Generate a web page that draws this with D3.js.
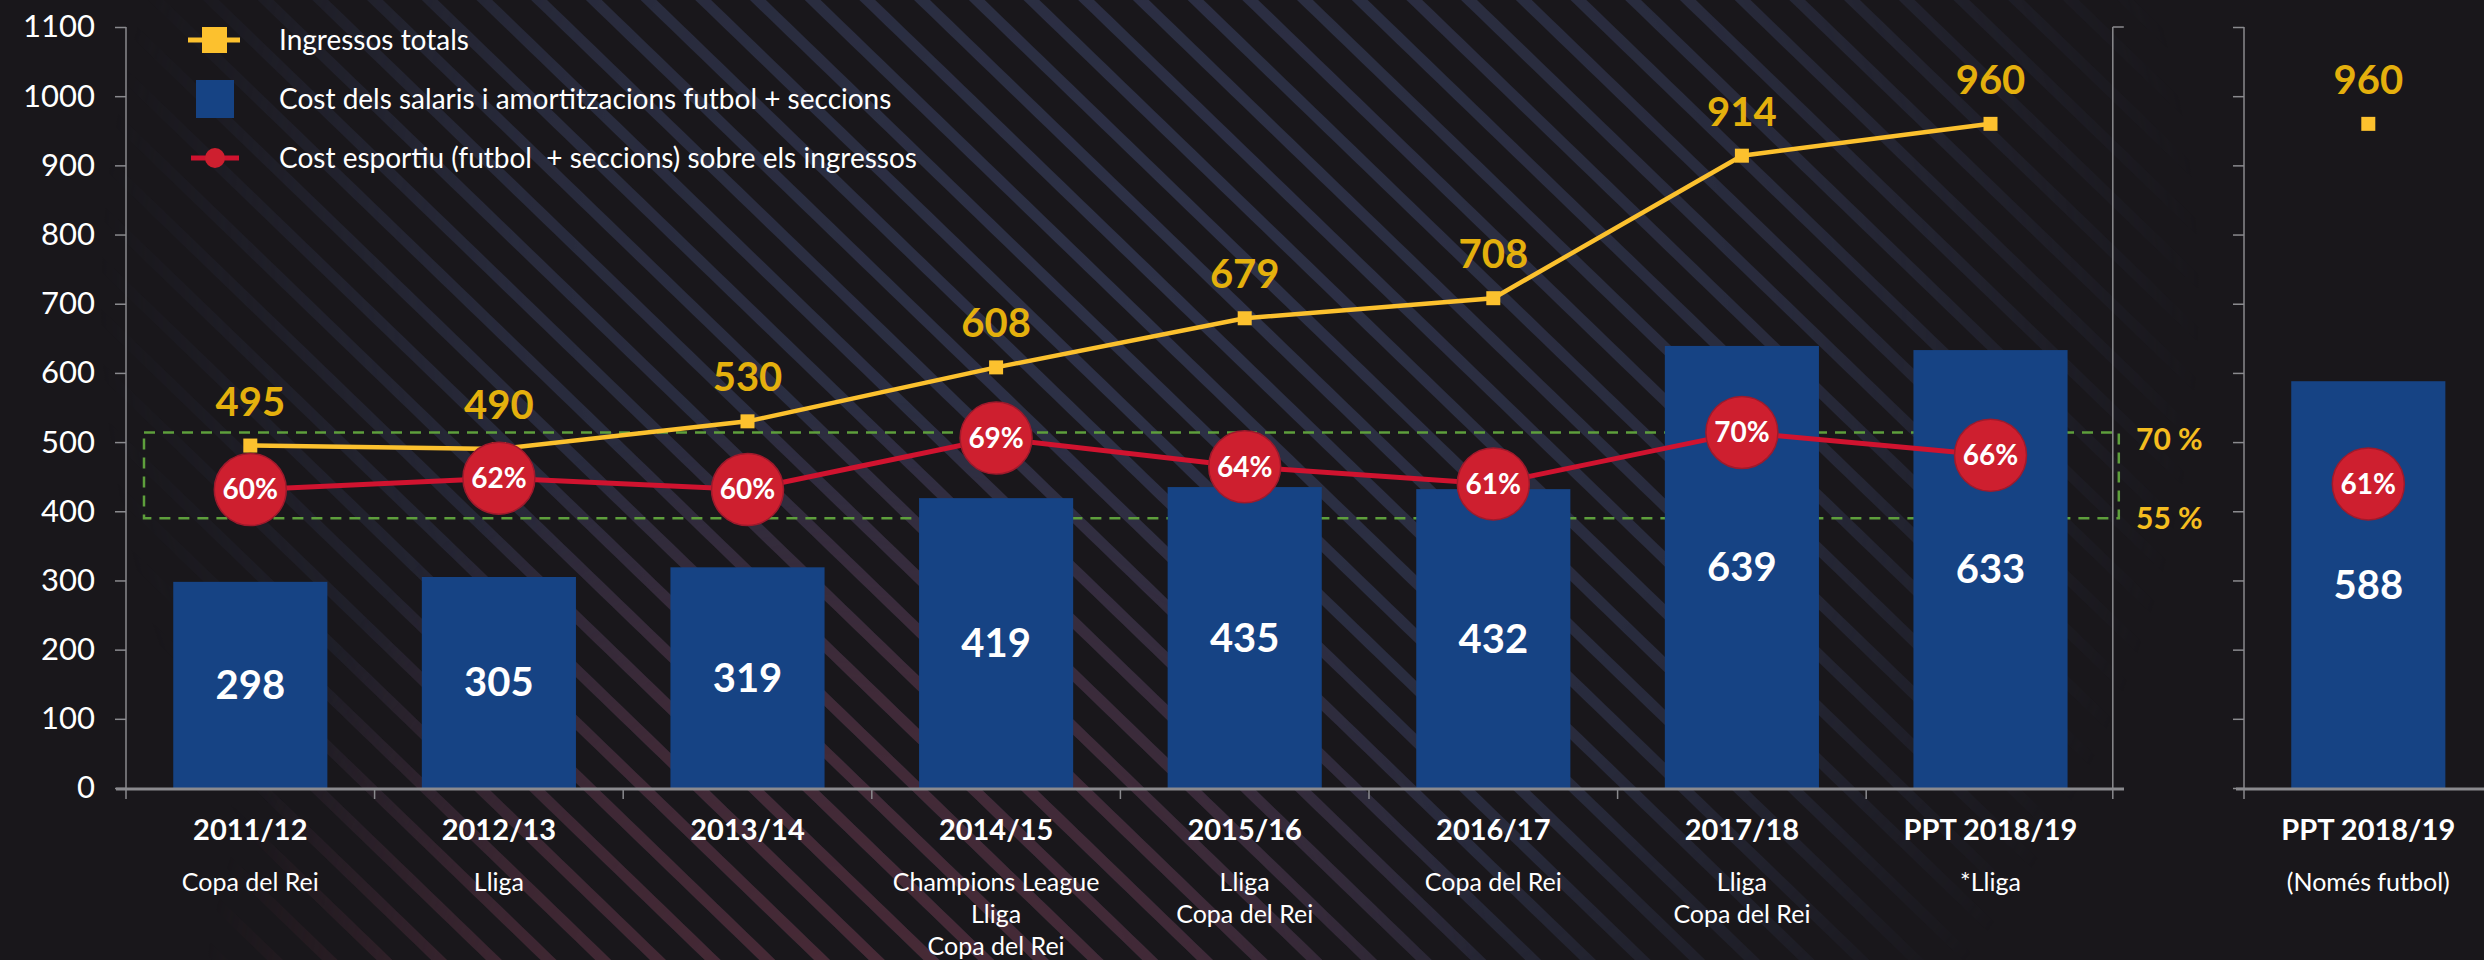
<!DOCTYPE html>
<html>
<head>
<meta charset="utf-8">
<script src="https://cdn.jsdelivr.net/npm/d3@7"></script>
<style>
  html, body { margin: 0; padding: 0; background: #19171b; }
  svg { display: block; font-family: Lato, "Open Sans", sans-serif; }
</style>
</head>
<body>
<svg id="chart" width="2484" height="960"></svg>
<script>
const width = 2484, height = 960;

// Chart data
const seasons = ["2011/12", "2012/13", "2013/14", "2014/15", "2015/16", "2016/17", "2017/18", "PPT 2018/19"];
const titles = [["Copa del Rei"], ["Lliga"], [], ["Champions League", "Lliga", "Copa del Rei"], ["Lliga", "Copa del Rei"], ["Copa del Rei"], ["Lliga", "Copa del Rei"], ["*Lliga"]];
const salaryCost = [298, 305, 319, 419, 435, 432, 639, 633];
const totalIncome = [495, 490, 530, 608, 679, 708, 914, 960];
const costShare = [60, 62, 60, 69, 64, 61, 70, 66];

// Football-only budget (right panel)
const footballSeason = ["PPT 2018/19"];
const footballSub = ["(Només futbol)"];
const footballCost = [588];
const footballIncome = [960];
const footballShare = [61];

const yTicks = [0, 100, 200, 300, 400, 500, 600, 700, 800, 900, 1000, 1100];
const shareBand = [55, 70];

const legendItems = ["Ingressos totals", "Cost dels salaris i amortitzacions futbol + seccions", "Cost esportiu (futbol  + seccions) sobre els ingressos"];

const col = {
    bar: "#164384", yellow: "#fcc12e", yellowText: "#e4b00d",
    red: "#d0132f", redDot: "#ce1f2f", green: "#5e9f3c", axis: "#8a8a8e"
};

const svg = d3.select("#chart");
const defs = svg.append("defs");

// Background: dark with faded diagonal stripes
svg.append("rect").attr("width", width).attr("height", height).attr("fill", "#19171b");

function stripePattern(id, color) {
    const p = defs.append("pattern").attr("id", id)
        .attr("patternUnits", "userSpaceOnUse").attr("width", 200).attr("height", 38)
        .attr("patternTransform", "rotate(44)");
    p.append("rect").attr("width", 200).attr("height", 11).attr("fill", color);
}
stripePattern("stripesBlue", "#2e3248");
stripePattern("stripesRed", "#4a2a36");

function fadeMask(id, cx, cy, r, stops) {
    const g = defs.append("radialGradient").attr("id", id + "G").attr("gradientUnits", "userSpaceOnUse")
        .attr("cx", cx).attr("cy", cy).attr("r", r);
    stops.forEach(([o, a]) => g.append("stop").attr("offset", o).attr("stop-color", "#fff").attr("stop-opacity", a));
    defs.append("mask").attr("id", id).append("rect").attr("width", width).attr("height", height).attr("fill", `url(#${id}G)`);
}
fadeMask("maskA", 1150, 300, 1050, [["0%", 1], ["60%", 0.75], ["100%", 0]]);
fadeMask("maskB", 850, 1050, 650, [["0%", 1], ["55%", 0.7], ["100%", 0]]);

svg.append("rect").attr("width", width).attr("height", height).attr("fill", "url(#stripesBlue)").attr("mask", "url(#maskA)");
svg.append("rect").attr("width", width).attr("height", height).attr("fill", "url(#stripesRed)").attr("mask", "url(#maskB)");

// Scales
const y = d3.scaleLinear().domain([0, 1100]).range([788, 27]);
const x = d3.scaleBand().domain(seasons).range([126, 126 + 8 * 248.6]).paddingInner(0.38).paddingOuter(0.19);
const x2 = d3.scaleBand().domain(footballSeason).range([2244, 2244 + x.step()]).paddingInner(0.38).paddingOuter(0.19);
const yPct = d3.scaleLinear().domain(shareBand).range([y(390), y(514)]);

const cx = (s) => x(s) + x.bandwidth() / 2;
const cx2 = (s) => x2(s) + x2.bandwidth() / 2;

// Left axis
const yAxis = svg.append("g").attr("transform", "translate(126,0)")
    .call(d3.axisLeft(y).tickValues(yTicks).tickSize(11).tickPadding(20).tickFormat(d3.format("d")));
yAxis.select(".domain").attr("stroke", col.axis).attr("stroke-width", 1.5).attr("d", `M0,${y(1100)}V${y(0)}`);
yAxis.selectAll(".tick line").attr("stroke", col.axis).attr("stroke-width", 1.5);
yAxis.selectAll(".tick text").attr("fill", "#fff").style("font-size", "31px").style("font-weight", 400)
    .style("font-family", "Lato, sans-serif");

// Right border of left panel
svg.append("path").attr("d", `M${x.range()[1] - 2},${y(1100)}V${y(0)}M${x.range()[1] - 2},${y(1100)}h11`)
    .attr("stroke", col.axis).attr("stroke-width", 1.5).attr("fill", "none");

// Right panel axis
const yAxis2 = svg.append("g").attr("transform", "translate(2244,0)")
    .call(d3.axisLeft(y).tickValues(yTicks).tickSize(11).tickFormat(""));
yAxis2.select(".domain").attr("stroke", col.axis).attr("stroke-width", 1.5).attr("d", `M0,${y(1100)}V${y(0)}`);
yAxis2.selectAll(".tick line").attr("stroke", col.axis).attr("stroke-width", 1.5);

// Dashed band 55%-70%
svg.append("rect")
    .attr("x", x.range()[0] + 18).attr("y", yPct(70))
    .attr("width", x.range()[1] + 4 - (x.range()[0] + 18)).attr("height", yPct(55) - yPct(70))
    .attr("fill", "none").attr("stroke", col.green).attr("stroke-width", 2.5).attr("stroke-dasharray", "11 8");
svg.selectAll(".bandLabel").data(shareBand).join("text")
    .attr("x", 2136).attr("y", d => yPct(d) + (d === 70 ? 7 : 0)).attr("dy", "0.35em")
    .attr("fill", "#f5bd1f").style("font-size", "30px").style("font-weight", 700)
    .text(d => d + " %");

// Bars
svg.selectAll(".bar").data(seasons).join("rect")
    .attr("x", s => x(s)).attr("width", x.bandwidth())
    .attr("y", (s, i) => y(salaryCost[i])).attr("height", (s, i) => y(0) - y(salaryCost[i]))
    .attr("fill", col.bar);
svg.selectAll(".bar2").data(footballSeason).join("rect")
    .attr("x", s => x2(s)).attr("width", x2.bandwidth())
    .attr("y", (s, i) => y(footballCost[i])).attr("height", (s, i) => y(0) - y(footballCost[i]))
    .attr("fill", col.bar);

// X axes
function drawXAxis(scale, x0, x1, closeEnd) {
    const g = svg.append("g");
    g.append("line").attr("x1", x0).attr("x2", x1).attr("y1", y(0) + 1).attr("y2", y(0) + 1)
        .attr("stroke", col.axis).attr("stroke-width", 3);
    const bounds = scale.domain().map((s, i) => scale.range()[0] + i * scale.step());
    if (closeEnd) bounds.push(scale.range()[1] - 2);
    g.selectAll("line.xt").data(bounds).join("line").attr("class", "xt")
        .attr("x1", d => d).attr("x2", d => d).attr("y1", y(0) + 1).attr("y2", y(0) + 11)
        .attr("stroke", col.axis).attr("stroke-width", 1.5);
}
drawXAxis(x, 116, 2124, true);
drawXAxis(x2, 2236, 2484, false);

// Category labels
svg.selectAll(".cat").data(seasons).join("text")
    .attr("x", s => cx(s)).attr("y", 830).attr("dy", "0.35em").attr("text-anchor", "middle")
    .attr("fill", "#fff").style("font-size", "29px").style("font-weight", 700).text(s => s);
seasons.forEach((s, i) => {
    svg.append("g").selectAll("text").data(titles[i]).join("text")
        .attr("x", cx(s)).attr("y", (d, j) => 882 + j * 32).attr("dy", "0.35em").attr("text-anchor", "middle")
        .attr("fill", "#fff").style("font-size", "25px").style("font-weight", 400).text(d => d);
});
svg.selectAll(".cat2").data(footballSeason).join("text")
    .attr("x", s => cx2(s)).attr("y", 830).attr("dy", "0.35em").attr("text-anchor", "middle")
    .attr("fill", "#fff").style("font-size", "29px").style("font-weight", 700).text(s => s);
svg.selectAll(".sub2").data(footballSub).join("text")
    .attr("x", (d, i) => cx2(footballSeason[i])).attr("y", 882).attr("dy", "0.35em").attr("text-anchor", "middle")
    .attr("fill", "#fff").style("font-size", "25px").style("font-weight", 400).text(d => d);

// Income line
const incomeLine = d3.line().x((d, i) => cx(seasons[i])).y(d => y(d));
svg.append("path").datum(totalIncome).attr("d", incomeLine)
    .attr("fill", "none").attr("stroke", col.yellow).attr("stroke-width", 4.5);
const incomePts = totalIncome.map((v, i) => ({ x: cx(seasons[i]), v }))
    .concat(footballIncome.map((v, i) => ({ x: cx2(footballSeason[i]), v })));
svg.selectAll(".inc").data(incomePts).join("rect")
    .attr("x", d => d.x - 7).attr("y", d => y(d.v) - 7).attr("width", 14).attr("height", 14)
    .attr("fill", col.yellow);
svg.selectAll(".incLbl").data(incomePts).join("text")
    .attr("x", d => d.x).attr("y", d => y(d.v) - 44).attr("dy", "0.35em").attr("text-anchor", "middle")
    .attr("fill", col.yellowText).style("font-size", "40px").style("font-weight", 700).text(d => d.v);

// Cost share line
const shareLine = d3.line().x((d, i) => cx(seasons[i])).y(d => yPct(d));
svg.append("path").datum(costShare).attr("d", shareLine)
    .attr("fill", "none").attr("stroke", col.red).attr("stroke-width", 5);
const sharePts = costShare.map((v, i) => ({ x: cx(seasons[i]), v }))
    .concat(footballShare.map((v, i) => ({ x: cx2(footballSeason[i]), v })));
svg.selectAll(".shr").data(sharePts).join("circle")
    .attr("cx", d => d.x).attr("cy", d => yPct(d.v)).attr("r", 36)
    .attr("fill", col.redDot).attr("stroke", "#9e1a2c").attr("stroke-width", 1.5);
svg.selectAll(".shrLbl").data(sharePts).join("text")
    .attr("x", d => d.x).attr("y", d => yPct(d.v)).attr("dy", "0.35em").attr("text-anchor", "middle")
    .attr("fill", "#fff").style("font-size", "28px").style("font-weight", 700).text(d => d.v + "%");

// Bar value labels
const barPts = salaryCost.map((v, i) => ({ x: cx(seasons[i]), v }))
    .concat(footballCost.map((v, i) => ({ x: cx2(footballSeason[i]), v })));
svg.selectAll(".barLbl").data(barPts).join("text")
    .attr("x", d => d.x).attr("y", d => (y(d.v) + y(0)) / 2).attr("dy", "0.35em").attr("text-anchor", "middle")
    .attr("fill", "#fff").style("font-size", "40px").style("font-weight", 700).text(d => d.v);

// Legend
const legend = svg.append("g");
const ly = [40, 99, 158];
legend.append("line").attr("x1", 188).attr("x2", 240).attr("y1", ly[0]).attr("y2", ly[0]).attr("stroke", col.yellow).attr("stroke-width", 5);
legend.append("rect").attr("x", 202).attr("y", ly[0] - 13).attr("width", 25).attr("height", 26).attr("fill", col.yellow);
legend.append("rect").attr("x", 196).attr("y", ly[1] - 19).attr("width", 38).attr("height", 38).attr("fill", col.bar);
legend.append("line").attr("x1", 191).attr("x2", 239).attr("y1", ly[2]).attr("y2", ly[2]).attr("stroke", col.red).attr("stroke-width", 5);
legend.append("circle").attr("cx", 215).attr("cy", ly[2]).attr("r", 10).attr("fill", col.redDot);
legend.selectAll("text").data(legendItems).join("text")
    .attr("x", 279).attr("y", (d, i) => ly[i]).attr("dy", "0.35em").style("white-space", "pre")
    .attr("fill", "#fff").style("font-size", "28px").style("font-weight", 400).text(d => d);
</script>
</body>
</html>
